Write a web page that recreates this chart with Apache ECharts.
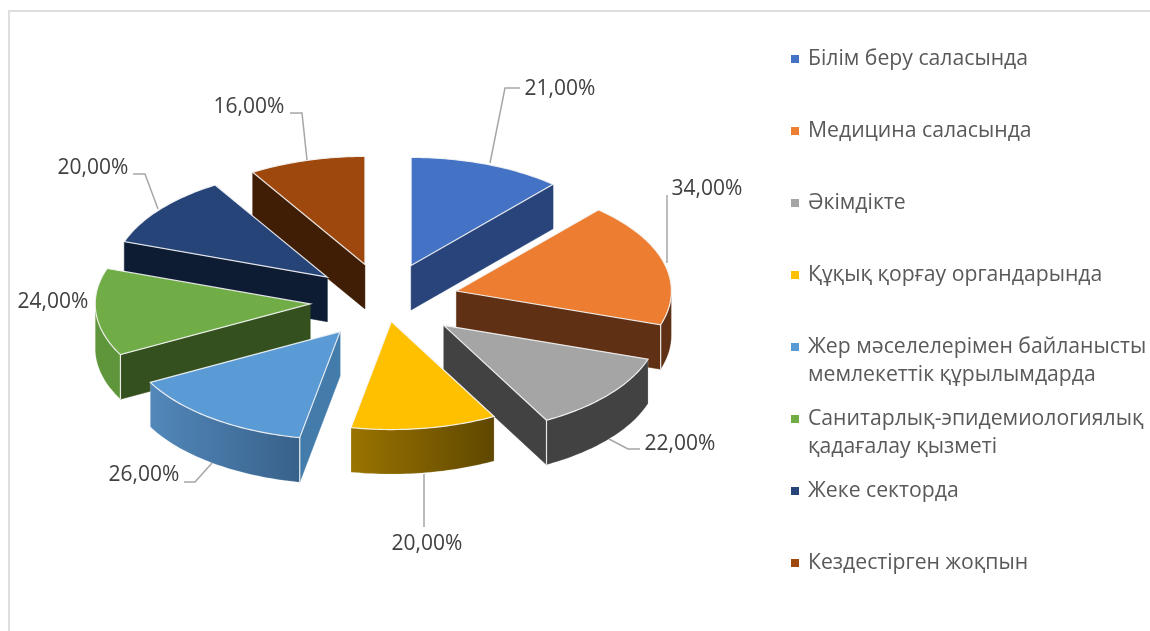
<!DOCTYPE html>
<html>
<head>
<meta charset="utf-8">
<title>Pie</title>
<script src="https://cdn.jsdelivr.net/npm/echarts@6/dist/echarts.min.js"></script>
<style>
  html, body { margin: 0; padding: 0; background: #fff; }
  #chart { width: 1150px; height: 631px; }
</style>
</head>
<body>
<div id="chart"></div>
<script>
// data
const CATEGORIES = [
  'Білім беру саласында',
  'Медицина саласында',
  'Әкімдікте',
  'Құқық қорғау органдарында',
  'Жер мәселелерімен байланысты\nмемлекеттік құрылымдарда',
  'Санитарлық-эпидемиологиялық\nқадағалау қызметі',
  'Жеке секторда',
  'Кездестірген жоқпын',
]
const VALUES = [21, 34, 22, 20, 26, 24, 20, 16]

// styles, same order as the categories
const TOP_COLORS = ['#4472c4', '#ed7d31', '#a5a5a5', '#ffc000', '#5b9bd5', '#70ad47', '#264478', '#9e480e']
const WALL_COLORS = ['#29447a', '#5f3013', '#424242', '#5f4700', '#437bab', '#35501f', '#0e1c33', '#401e06']
const RIM_COLORS = [
  ['#29447a', '#29447a'],
  ['#5f3013', '#5f3013'],
  ['#424242', '#424242'],
  ['#9a7400', '#5f4700'],
  ['#5288ba', '#38618a'],
  ['#5f963b', '#5f963b'],
  ['#0e1c33', '#0e1c33'],
  ['#401e06', '#401e06'],
]
const DRAW_ORDER = [0, 3, 5, 6, 7, 4, 2, 1] // z per slice, back to front
const SHIFT_X = [0, 0, 2, -5, -1, -1, 0, 0]
const SHIFT_Y = [0, 0, 0, -17, 0, 0, 0, 0] // yellow slice sits higher than the others

// layout
const CX = 385
const CY = 301
const RX = 215
const RY = 108
const DEPTH = 44.5
const EXPLODE_X = 74
const EXPLODE_Y = 38
const LABEL_POS = [[560, 89], [707, 189], [680, 444], [427, 544], [144, 475], [53, 302], [93, 168], [249, 107]]
const LEADERS = [
  [[490, 163], [505, 88], [520, 88]],
  [[667, 263], [667, 195]],
  [[609, 439], [628, 449], [640, 449]],
  [[424, 474], [424, 527]],
  [[212, 463], [195, 482], [184, 482]],
  [],
  [[158, 209], [145, 174], [133, 174]],
  [[307, 160], [302, 113], [290, 113]],
]
const LEGEND_Y = [58, 130, 202, 274, 346, 418, 490, 562]
const LINE_H = 28
const FONT = '"Open Sans", "Noto Sans", sans-serif'
const EDGE = 'rgba(245,245,245,0.9)'

const TOTAL = VALUES.reduce((a, b) => a + b, 0)

function rad(v) {
  return (v / TOTAL) * Math.PI * 2
}

function down(p) {
  return [p[0], p[1] + DEPTH]
}

function renderSlice(params, api) {
  const i = params.seriesIndex
  const value = api.value(0)
  const start = rad(VALUES.slice(0, i).reduce((a, b) => a + b, 0))
  const end = start + rad(value)
  const mid = (start + end) / 2
  const apex = [
    CX + EXPLODE_X * Math.sin(mid) + SHIFT_X[i],
    CY - EXPLODE_Y * Math.cos(mid) + SHIFT_Y[i],
  ]
  const pt = (a) => [apex[0] + RX * Math.sin(a), apex[1] - RY * Math.cos(a)]

  const arc = []
  const steps = Math.ceil((end - start) / 0.02)
  for (let s = 0; s <= steps; s++) arc.push(pt(start + ((end - start) * s) / steps))

  const children = []

  // flat cut walls, only the ones that face the viewer
  const wall = (a) => {
    const p = pt(a)
    children.push({
      type: 'polygon',
      shape: { points: [apex, p, down(p), down(apex)] },
      style: { fill: WALL_COLORS[i], stroke: WALL_COLORS[i], lineWidth: 0.5 },
    })
  }
  const endWall = Math.sin(end) > 0
  const startWall = Math.sin(start) < 0
  if (endWall) wall(end)
  if (startWall) wall(start)

  // curved rim on the lower half of the ellipse
  const front = arc.filter((p) => p[1] >= apex[1] - 0.001)
  if (front.length > 1) {
    children.push({
      type: 'polygon',
      shape: { points: front.concat(front.map(down).reverse()) },
      style: {
        fill: new echarts.graphic.LinearGradient(0, 0, 1, 0, [
          { offset: 0, color: RIM_COLORS[i][0] },
          { offset: 1, color: RIM_COLORS[i][1] },
        ]),
        stroke: 'rgba(255,255,255,0.35)',
        lineWidth: 0.5,
      },
    })
    // bevel line at the corner where the rim meets a wall
    if (endWall || startWall) {
      const corner = pt(endWall ? end : start)
      children.push({
        type: 'line',
        shape: { x1: corner[0], y1: corner[1], x2: corner[0], y2: corner[1] + DEPTH },
        style: { stroke: EDGE, lineWidth: 1.2 },
      })
    }
  }

  children.push({
    type: 'polygon',
    shape: { points: [apex].concat(arc) },
    style: { fill: TOP_COLORS[i], stroke: EDGE, lineWidth: 1.2 },
  })

  if (LEADERS[i].length) {
    children.push({
      type: 'polyline',
      shape: { points: LEADERS[i] },
      style: { stroke: '#a6a6a6', lineWidth: 1.5, fill: 'none' },
    })
  }
  children.push({
    type: 'text',
    style: {
      x: LABEL_POS[i][0],
      y: LABEL_POS[i][1],
      text: value.toFixed(2).replace('.', ',') + '%',
      fill: '#404040',
      font: '21px ' + FONT,
      align: 'center',
      verticalAlign: 'middle',
    },
  })

  return { type: 'group', children }
}

const chart = echarts.init(document.getElementById('chart'), undefined, { renderer: 'canvas' })

chart.setOption({
  animation: false,
  backgroundColor: '#fff',
  graphic: [
    {
      type: 'polyline',
      silent: true,
      shape: { points: [[9, 631], [9, 11], [1150, 11]] },
      style: { stroke: '#dedede', lineWidth: 2, fill: 'none' },
    },
  ],
  // one legend per row: a blank first line puts the icon on the first line of two-line rows
  legend: CATEGORIES.map((name, i) => {
    const twoLines = name.includes('\n')
    return {
      data: [name],
      left: 791,
      top: LEGEND_Y[i] - (twoLines ? 3 * LINE_H : LINE_H) / 2 + 1,
      padding: 0,
      itemWidth: 8,
      itemHeight: 8,
      itemGap: 8,
      icon: 'rect',
      selectedMode: false,
      formatter: (n) => (twoLines ? '\n' + n : n),
      textStyle: {
        color: '#595959',
        fontFamily: FONT,
        fontSize: 21.2,
        lineHeight: LINE_H,
        padding: [0, 0, 0, 4],
      },
    }
  }),
  series: CATEGORIES.map((name, i) => ({
    type: 'custom',
    name,
    coordinateSystem: 'none',
    z: 2 + DRAW_ORDER[i],
    color: TOP_COLORS[i],
    silent: true,
    renderItem: renderSlice,
    data: [[VALUES[i]]],
  })),
})
</script>
</body>
</html>
